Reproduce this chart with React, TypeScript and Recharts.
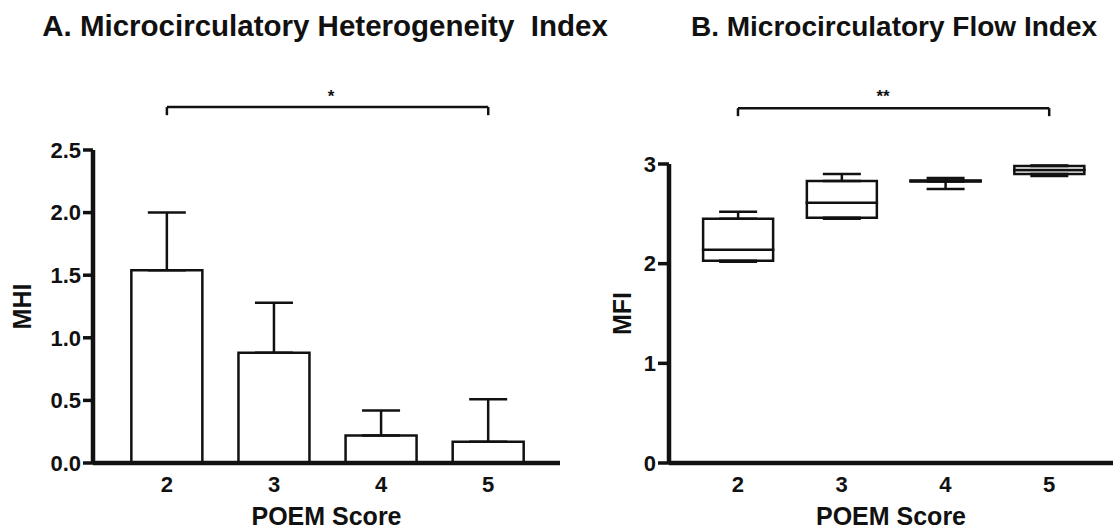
import React from 'react';
import { Bar, ComposedChart, ErrorBar, Label, ReferenceLine, XAxis, YAxis } from 'recharts';

const poemScores = [2, 3, 4, 5];

// A. MHI, mean + upper SD
const mhiMean = [1.54, 0.88, 0.22, 0.17];
const mhiSd = [0.46, 0.40, 0.20, 0.34];

// B. MFI, box and whiskers
const mfiMin = [2.02, 2.45, 2.75, 2.88];
const mfiQ1 = [2.03, 2.46, 2.825, 2.9];
const mfiMedian = [2.14, 2.61, 2.83, 2.94];
const mfiQ3 = [2.45, 2.83, 2.835, 2.98];
const mfiMax = [2.52, 2.9, 2.86, 2.985];

const mhiTicks = [0, 0.5, 1, 1.5, 2, 2.5];
const mfiTicks = [0, 1, 2, 3];

const mhiData = poemScores.map((score, i) => ({
  score,
  mean: mhiMean[i],
  sd: [0, mhiSd[i]],
}));

const mfiData = poemScores.map((score, i) => ({
  score,
  base: mfiQ1[i],
  lower: mfiMedian[i] - mfiQ1[i],
  upper: mfiQ3[i] - mfiMedian[i],
  lowWhisker: [mfiQ1[i] - mfiMin[i], 0],
  highWhisker: [0, mfiMax[i] - mfiQ3[i]],
}));

const FONT = '"Liberation Sans", Arial, sans-serif';
const INK = '#111';
const tickStyle = { fontFamily: FONT, fontWeight: 700, fontSize: 22, fill: INK, stroke: 'none' };
const labelStyle = { fontFamily: FONT, fontWeight: 700, fontSize: 25, fill: INK };
const axisLine = { stroke: INK, strokeWidth: 4.5 };
const tickLine = { stroke: INK, strokeWidth: 3.5 };

// thick GraphPad-style axes
const axisCss = `
  .recharts-cartesian-axis-line { stroke: ${INK}; stroke-width: 4.5px; }
  .recharts-cartesian-axis-tick-line { stroke: ${INK}; stroke-width: 3.5px; }
`;

const bracket = (x1: number, x2: number, y: number, drop: number) => [
  <ReferenceLine key="h" segment={[{ x: x1, y }, { x: x2, y }]} stroke={INK} strokeWidth={2.5} ifOverflow="visible" />,
  <ReferenceLine key="l" segment={[{ x: x1, y }, { x: x1, y: y - drop }]} stroke={INK} strokeWidth={2.5} ifOverflow="visible" />,
  <ReferenceLine key="r" segment={[{ x: x2, y }, { x: x2, y: y - drop }]} stroke={INK} strokeWidth={2.5} ifOverflow="visible" />,
];

const MhiChart = () => (
  <ComposedChart width={560} height={530} data={mhiData} margin={{ top: 150, right: 0, bottom: 0, left: 0 }}>
    <XAxis
      type="number" dataKey="score" domain={[1.31, 5.67]} ticks={poemScores} allowDataOverflow
      height={67} tickLine={false} tickSize={0} tickMargin={13}
      stroke={INK} axisLine={axisLine} tick={tickStyle}
    >
      <Label value="POEM Score" position="insideBottom" offset={5} style={labelStyle} />
    </XAxis>
    <YAxis
      type="number" domain={[0, 2.5]} ticks={mhiTicks} width={93}
      tickFormatter={(v: number) => v.toFixed(1)}
      tickSize={10} tickMargin={2}
      stroke={INK} axisLine={axisLine} tickLine={tickLine} tick={tickStyle}
    >
      <Label value="MHI" angle={-90} position="center" dx={-24} style={labelStyle} />
    </YAxis>
    <Bar dataKey="mean" barSize={71} fill="#fff" stroke={INK} strokeWidth={2.5} isAnimationActive={false}>
      <ErrorBar dataKey="sd" width={19} stroke={INK} strokeWidth={2.5} direction="y" />
    </Bar>
    {bracket(2, 5, 2.843, 0.065)}
  </ComposedChart>
);

const MfiChart = () => (
  <ComposedChart width={553} height={530} data={mfiData} margin={{ top: 164, right: 0, bottom: 0, left: 0 }}>
    <XAxis
      type="number" dataKey="score" domain={[1.335, 5.615]} ticks={poemScores} allowDataOverflow
      height={67} tickLine={false} tickSize={0} tickMargin={13}
      stroke={INK} axisLine={axisLine} tick={tickStyle}
    >
      <Label value="POEM Score" position="insideBottom" offset={5} style={labelStyle} />
    </XAxis>
    <YAxis
      type="number" domain={[0, 3]} ticks={mfiTicks} width={109}
      tickSize={11} tickMargin={2}
      stroke={INK} axisLine={axisLine} tickLine={tickLine} tick={tickStyle}
    >
      <Label value="MFI" angle={-90} position="center" dx={8} style={labelStyle} />
    </YAxis>
    <Bar dataKey="base" stackId="box" barSize={70} fill="none" stroke="none" isAnimationActive={false}>
      <ErrorBar dataKey="lowWhisker" width={19} stroke={INK} strokeWidth={2.5} direction="y" />
    </Bar>
    <Bar dataKey="lower" stackId="box" barSize={70} fill="#fff" stroke={INK} strokeWidth={2.5} isAnimationActive={false} />
    <Bar dataKey="upper" stackId="box" barSize={70} fill="#fff" stroke={INK} strokeWidth={2.5} isAnimationActive={false}>
      <ErrorBar dataKey="highWhisker" width={19} stroke={INK} strokeWidth={2.5} direction="y" />
    </Bar>
    {bracket(2, 5, 3.56, 0.08)}
  </ComposedChart>
);

export default function App() {
  return (
    <div style={{ position: 'absolute', left: 0, top: 0, width: 1113, height: 530, background: '#fff' }}>
      <style>{axisCss}</style>
      <div style={{ position: 'absolute', left: 0, top: 0 }}>
        <MhiChart />
      </div>
      <div style={{ position: 'absolute', left: 560, top: 0 }}>
        <MfiChart />
      </div>
      <svg width={1113} height={530} style={{ position: 'absolute', left: 0, top: 0, pointerEvents: 'none' }}>
        <g fontFamily={FONT} fontWeight={700} fill={INK} textAnchor="middle">
          <text x={325} y={36} fontSize={29.5}>A. Microcirculatory Heterogeneity{'\u00a0\u00a0'}Index</text>
          <text x={894} y={36} fontSize={28}>B. Microcirculatory Flow Index</text>
          <text x={331} y={102} fontSize={17}>*</text>
          <text x={883} y={102} fontSize={17}>**</text>
        </g>
      </svg>
    </div>
  );
}
